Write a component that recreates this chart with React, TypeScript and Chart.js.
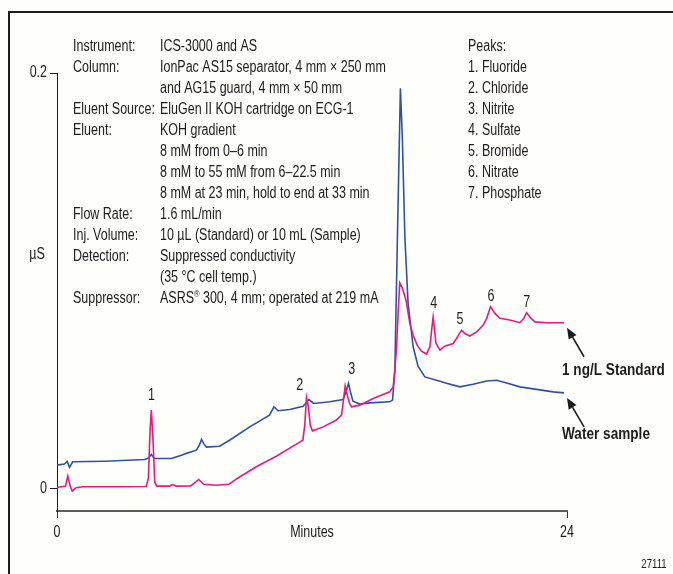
import React, { useEffect, useRef } from 'react';
import { Chart, registerables } from 'chart.js';

Chart.register(...registerables);

// ---- Data (minutes, µS) ----
const standardTimes = [0, 0.4, 0.51, 0.62, 0.72, 0.9, 1.2, 2.0, 3.0, 4.2, 4.3, 4.38, 4.44, 4.52, 4.6, 4.7, 5.3, 5.44, 5.6, 6.3, 6.67, 6.9, 7.5, 8.1, 8.5, 9.38, 10.32, 11.27, 11.57, 11.66, 11.74, 11.82, 11.92, 12.02, 12.5, 13.15, 13.39, 13.48, 13.56, 13.66, 13.76, 13.86, 14.25, 14.88, 15.66, 15.82, 15.9, 15.98, 16.06, 16.13, 16.25, 16.37, 16.45, 16.6, 16.76, 16.95, 17.15, 17.39, 17.55, 17.63, 17.7, 17.77, 17.83, 18.02, 18.25, 18.64, 18.8, 19.04, 19.19, 19.43, 19.75, 20.06, 20.22, 20.4, 20.61, 20.84, 21.31, 21.78, 21.97, 22.1, 22.26, 22.49, 23.04, 23.86];
const standardValues = [0.0003, 0.001, 0.0058, 0.001, -0.0014, 0.0002, 0.0007, 0.0007, 0.0007, 0.0008, 0.0048, 0.028, 0.0376, 0.023, 0.003, 0.001, 0.001, 0.0017, 0.001, 0.0011, 0.0042, 0.0019, 0.0014, 0.0019, 0.0048, 0.0103, 0.0154, 0.0212, 0.0231, 0.0304, 0.0437, 0.04, 0.0304, 0.0276, 0.0294, 0.0328, 0.0352, 0.0424, 0.0493, 0.0448, 0.041, 0.0392, 0.04, 0.0432, 0.0464, 0.0488, 0.0569, 0.0681, 0.0858, 0.0989, 0.0964, 0.0925, 0.0892, 0.0795, 0.0737, 0.0689, 0.066, 0.0646, 0.0681, 0.0761, 0.0823, 0.0761, 0.0699, 0.0665, 0.0684, 0.0697, 0.0721, 0.0761, 0.0745, 0.0733, 0.0753, 0.0786, 0.0818, 0.0874, 0.0842, 0.0818, 0.081, 0.0797, 0.0818, 0.0845, 0.0823, 0.0801, 0.0797, 0.0797];

const sampleTimes = [0, 0.35, 0.48, 0.59, 0.74, 2.24, 4.12, 4.3, 4.44, 4.59, 5.38, 5.85, 6.16, 6.56, 6.7, 6.8, 6.92, 7.03, 7.65, 8.12, 9.07, 10.0, 10.21, 10.4, 10.95, 11.58, 11.86, 12.08, 12.84, 13.46, 13.6, 13.72, 13.82, 13.93, 14.25, 14.72, 15.66, 15.79, 15.9, 16.02, 16.16, 16.25, 16.37, 16.52, 16.76, 16.99, 17.31, 17.86, 18.33, 18.96, 19.58, 20.22, 20.69, 21.16, 21.78, 22.57, 23.35, 23.86];
const sampleValues = [0.0111, 0.0116, 0.0129, 0.01, 0.0127, 0.013, 0.0138, 0.0145, 0.0162, 0.0143, 0.0143, 0.0159, 0.017, 0.0183, 0.0207, 0.0235, 0.0212, 0.0198, 0.0202, 0.0231, 0.0295, 0.0352, 0.0392, 0.0373, 0.0379, 0.0395, 0.0427, 0.0408, 0.0416, 0.0427, 0.0463, 0.0505, 0.0458, 0.0419, 0.0405, 0.0411, 0.0416, 0.0424, 0.0569, 0.1211, 0.1926, 0.1693, 0.1211, 0.0892, 0.0681, 0.0588, 0.0536, 0.052, 0.0505, 0.0488, 0.0501, 0.0516, 0.052, 0.0507, 0.0488, 0.0476, 0.0464, 0.0459];

const xTickValues = [0, 24];
const yTickValues = [0, 0.2];

const peakNumbers = ['1', '2', '3', '4', '5', '6', '7'];
const peakLabelTimes = [4.45, 11.42, 13.87, 17.73, 18.96, 20.42, 22.11];
const peakLabelValues = [0.0448, 0.0492, 0.0573, 0.0887, 0.081, 0.0925, 0.0896];

const methodKeys = ['Instrument:', 'Column:', '', 'Eluent Source:', 'Eluent:', '', '', '', 'Flow Rate:', 'Inj. Volume:', 'Detection:', '', 'Suppressor:'];
const methodValues = [
  'ICS-3000 and AS',
  'IonPac AS15 separator, 4 mm \u00d7 250 mm',
  'and AG15 guard, 4 mm \u00d7 50 mm',
  'EluGen II KOH cartridge on ECG-1',
  'KOH gradient',
  '8 mM from 0\u20136 min',
  '8 mM to 55 mM from 6\u201322.5 min',
  '8 mM at 23 min, hold to end at 33 min',
  '1.6 mL/min',
  '10 \u00b5L (Standard) or 10 mL (Sample)',
  'Suppressed conductivity',
  '(35 \u00b0C cell temp.)',
  'ASRS\u00ae 300, 4 mm; operated at 219 mA',
];
const peakNames = ['Peaks:', '1. Fluoride', '2. Chloride', '3. Nitrite', '4. Sulfate', '5. Bromide', '6. Nitrate', '7. Phosphate'];

const seriesNames = ['1 ng/L Standard', 'Water sample'];
const PINK = '#e8197d';
const BLUE = '#3050a8';
const TEXT = '#1e1b1c';
const FONT = '"Liberation Sans", Arial, sans-serif';

function drawText(ctx: CanvasRenderingContext2D, text: string, x: number, y: number, size: number, sx: number, bold = false, align: CanvasTextAlign = 'left') {
  ctx.save();
  ctx.font = `${bold ? 'bold ' : ''}${size}px ${FONT}`;
  ctx.fillStyle = TEXT;
  ctx.textBaseline = 'middle';
  ctx.textAlign = align;
  ctx.translate(x, y);
  ctx.scale(sx, 1);
  if (text.includes('\u00ae')) {
    const parts = text.split('\u00ae');
    ctx.fillText(parts[0], 0, 0);
    let w = ctx.measureText(parts[0]).width;
    ctx.font = `${size * 0.6}px ${FONT}`;
    ctx.fillText('\u00ae', w, -size * 0.3);
    w += ctx.measureText('\u00ae').width;
    ctx.font = `${size}px ${FONT}`;
    ctx.fillText(parts[1], w, 0);
  } else {
    ctx.fillText(text, 0, 0);
  }
  ctx.restore();
}

function drawArrow(ctx: CanvasRenderingContext2D, tx: number, ty: number, fx: number, fy: number) {
  ctx.save();
  ctx.strokeStyle = TEXT;
  ctx.fillStyle = TEXT;
  ctx.lineWidth = 1.6;
  const ang = Math.atan2(ty - fy, tx - fx);
  const len = 11;
  const hw = 4.5;
  const bx = tx - len * Math.cos(ang);
  const by = ty - len * Math.sin(ang);
  ctx.beginPath();
  ctx.moveTo(fx, fy);
  ctx.lineTo(bx, by);
  ctx.stroke();
  ctx.beginPath();
  ctx.moveTo(tx, ty);
  ctx.lineTo(bx + hw * Math.sin(ang), by - hw * Math.cos(ang));
  ctx.lineTo(bx - hw * Math.sin(ang), by + hw * Math.cos(ang));
  ctx.closePath();
  ctx.fill();
  ctx.restore();
}

const annotationPlugin = {
  id: 'annotations',
  afterDraw(chart: any) {
    const ctx: CanvasRenderingContext2D = chart.ctx;
    const xs = chart.scales.x;
    const ys = chart.scales.y;
    // frame
    ctx.save();
    ctx.strokeStyle = TEXT;
    ctx.lineWidth = 2;
    ctx.beginPath();
    ctx.moveTo(9, 580);
    ctx.lineTo(9, 12);
    ctx.lineTo(680, 12);
    ctx.stroke();
    ctx.restore();

    const sz = 16;
    const sx = 0.78;
    methodKeys.forEach((k, i) => {
      const y = 47 + 21 * i;
      if (k) drawText(ctx, k, 73, y, sz, sx);
      drawText(ctx, methodValues[i], 160, y, sz, sx);
    });
    peakNames.forEach((p, i) => drawText(ctx, p, 468, 47 + 21 * i, sz, sx));

    // y tick labels
    yTickValues.forEach((v) => {
      drawText(ctx, String(v), ys.left + ys.width - 10, ys.getPixelForValue(v), sz, sx, false, 'right');
    });
    // x tick labels
    xTickValues.forEach((v) => {
      drawText(ctx, String(v), xs.getPixelForValue(v), 533, sz, sx, false, 'center');
    });

    // y axis title
    drawText(ctx, '\u00b5S', 37, 255, sz, sx, false, 'center');
    // x axis title
    drawText(ctx, 'Minutes', (xs.left + xs.right) / 2, 533, sz, sx, false, 'center');

    // peak numbers
    peakNumbers.forEach((n, i) => {
      drawText(ctx, n, xs.getPixelForValue(peakLabelTimes[i]), ys.getPixelForValue(peakLabelValues[i]), sz, sx, false, 'center');
    });

    // series labels with arrows
    const ends = [
      [standardTimes[standardTimes.length - 1], standardValues[standardValues.length - 1]],
      [sampleTimes[sampleTimes.length - 1], sampleValues[sampleValues.length - 1]],
    ];
    ends.forEach(([t, v], i) => {
      const px = xs.getPixelForValue(t);
      const py = ys.getPixelForValue(v);
      drawArrow(ctx, px + 3, py + 5, px + 20, py + 34);
      drawText(ctx, seriesNames[i], px - 2, py + (i === 0 ? 48 : 42), 16, 0.85, true);
    });

    drawText(ctx, '27111', 654, 565, 12, 0.8, false, 'center');
  },
};

export default function App() {
  const ref = useRef<HTMLCanvasElement | null>(null);
  useEffect(() => {
    if (!ref.current) return;
    const chart = new Chart(ref.current, {
      type: 'line',
      data: {
        datasets: [
          {
            label: seriesNames[0],
            data: standardTimes.map((t, i) => ({ x: t, y: standardValues[i] })),
            borderColor: PINK,
            borderWidth: 1.6,
            pointRadius: 0,
            tension: 0,
            fill: false,
          },
          {
            label: seriesNames[1],
            data: sampleTimes.map((t, i) => ({ x: t, y: sampleValues[i] })),
            borderColor: BLUE,
            borderWidth: 1.6,
            pointRadius: 0,
            tension: 0,
            fill: false,
          },
        ],
      },
      options: {
        responsive: false,
        animation: false,
        layout: { padding: { left: 0, top: 73, right: 106, bottom: 0 } },
        plugins: { legend: { display: false }, tooltip: { enabled: false } },
        scales: {
          x: {
            type: 'linear',
            min: 0,
            max: 24,
            afterBuildTicks: (s: any) => { s.ticks = xTickValues.map((v) => ({ value: v })); },
            afterFit: (s: any) => { s.height = 63; },
            border: { display: true, color: '#5a5a5a', width: 2 },
            grid: { drawOnChartArea: false, drawTicks: true, tickLength: 7, color: '#333', lineWidth: 1 },
            ticks: { display: false, autoSkip: false },
          },
          y: {
            type: 'linear',
            min: -0.011,
            max: 0.2,
            afterBuildTicks: (s: any) => { s.ticks = yTickValues.map((v) => ({ value: v })); },
            afterFit: (s: any) => { s.width = 57; },
            border: { display: true, color: '#1a1a1a', width: 1 },
            grid: { drawOnChartArea: false, drawTicks: true, tickLength: 7, color: '#1a1a1a', lineWidth: 1 },
            ticks: { display: false, autoSkip: false },
          },
        },
      } as any,
      plugins: [annotationPlugin],
    });
    return () => chart.destroy();
  }, []);

  return (
    <div style={{ position: 'absolute', left: 0, top: 0, width: 673, height: 574, background: '#fefefa', overflow: 'hidden' }}>
      <canvas ref={ref} width={673} height={574} style={{ display: 'block', width: 673, height: 574 }} />
    </div>
  );
}
